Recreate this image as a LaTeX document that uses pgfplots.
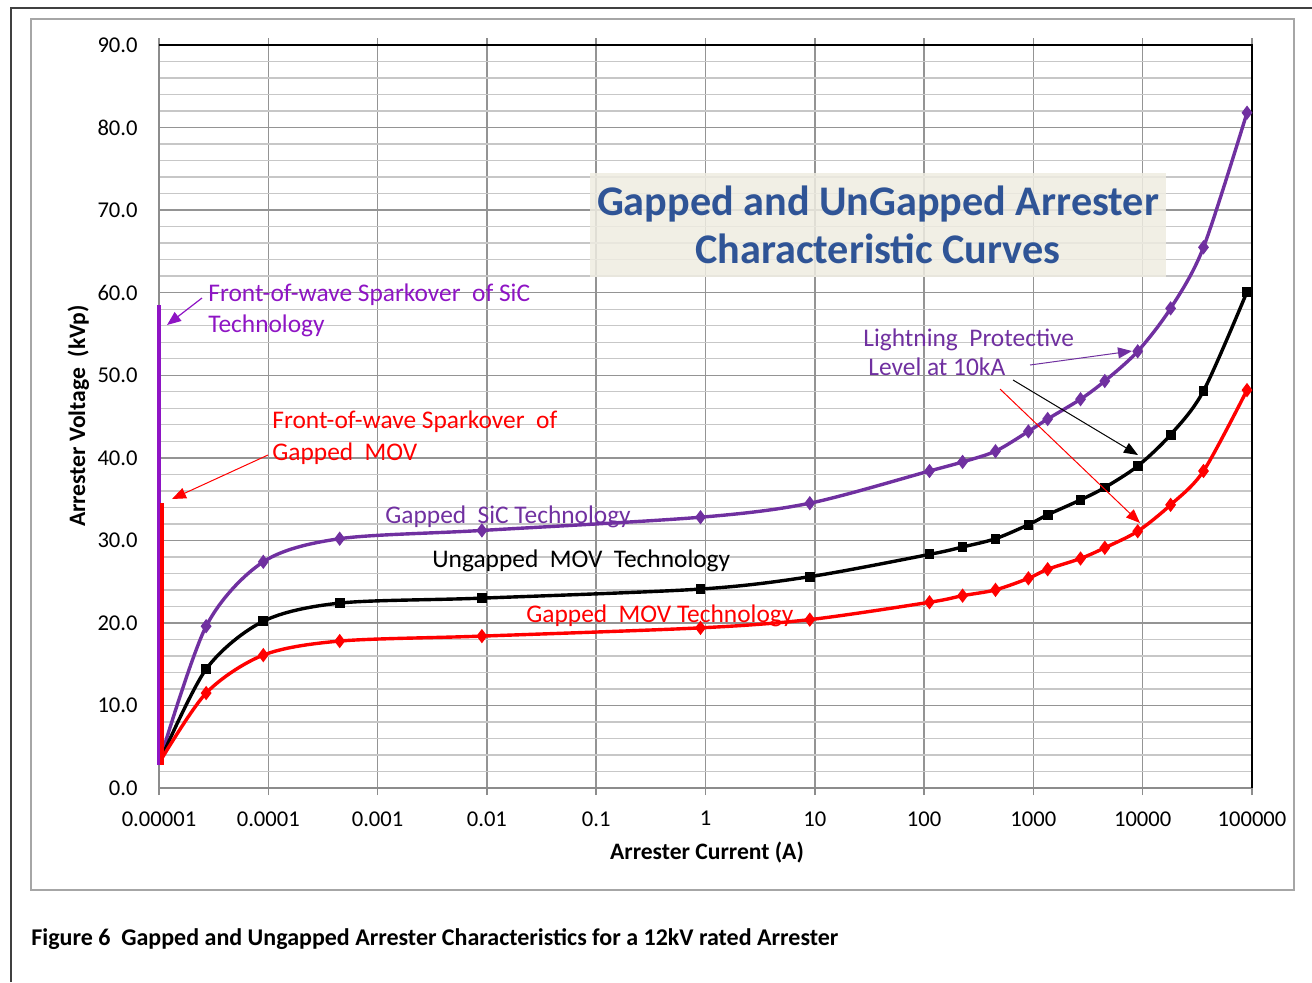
\documentclass[border=0pt]{standalone}
\usepackage{pgfplots}
\pgfplotsset{compat=1.18}
\usepackage{pgfplotstable}
\usepackage{fontspec}
\setmainfont{Carlito}
\usetikzlibrary{arrows.meta}
\definecolor{sicpurple}{RGB}{112,48,160}
\definecolor{sparkviolet}{RGB}{142,20,196}
\definecolor{movred}{RGB}{255,0,0}
\definecolor{titleblue}{RGB}{47,84,150}
\definecolor{boxfill}{RGB}{238,236,225}

\pgfplotstableread{
I V
1e-5 3.0
2.7e-5 19.6
9e-5 27.4
4.5e-4 30.2
0.009 31.2
0.9 32.8
9 34.5
112 38.4
225 39.5
450 40.8
900 43.2
1350 44.7
2700 47.1
4500 49.3
9000 52.9
18000 58.1
36000 65.5
90000 81.8
}\sic

\pgfplotstableread{
I V
1e-5 3.0
2.7e-5 14.4
9e-5 20.2
4.5e-4 22.4
0.009 23.0
0.9 24.1
9 25.6
112 28.3
225 29.2
450 30.2
900 31.9
1350 33.1
2700 34.9
4500 36.4
9000 39.0
18000 42.8
36000 48.1
90000 60.1
}\ungapped

\pgfplotstableread{
I V
1e-5 3.0
2.7e-5 11.5
9e-5 16.1
4.5e-4 17.8
0.009 18.4
0.9 19.4
9 20.4
112 22.5
225 23.3
450 24.0
900 25.4
1350 26.5
2700 27.8
4500 29.1
9000 31.1
18000 34.3
36000 38.4
90000 48.2
}\gappedmov

\begin{document}
\begin{tikzpicture}
\begin{scope}[x=0.5pt,y=-0.5pt]
\path[use as bounding box] (0,0) rectangle (1312,982);
\draw[color=black!75, line width=0.75pt] (11,982) -- (11,8) -- (1312,8);
\draw[color=black!35, line width=0.6pt] (31,19) rectangle (1294,890);
\end{scope}

\begin{axis}[
  at={(79.5pt,-394pt)}, anchor=south west,
  width=546.5pt, height=371.5pt, scale only axis,
  xmode=log, xmin=1e-5, xmax=1e5, ymin=0, ymax=90,
  clip=false,
  xtick={1e-5,1e-4,1e-3,1e-2,1e-1,1,10,100,1000,10000,100000},
  xticklabels={0.00001,0.0001,0.001,0.01,0.1,1,10,100,1000,10000,100000},
  xminorticks=false,
  ytick={0,10,...,90},
  minor y tick num=4,
  xmajorgrids, ymajorgrids, yminorgrids,
  major grid style={color=black!42, line width=0.7pt},
  minor grid style={color=black!22, line width=0.7pt},
  axis line style={color=black!45, line width=0.75pt},
  tick align=outside, major tick length=3.5pt, minor tick length=0pt,
  xtick style={color=black!45, line width=0.7pt},
  ytick style={draw=none},
  /pgf/number format/assume math mode=true,
  yticklabel style={font=\fontsize{11.3}{13}\selectfont, anchor=east, inner sep=0pt, xshift=-7pt,
    /pgf/number format/.cd, fixed, fixed zerofill, precision=1},
  xticklabel style={font=\fontsize{11.3}{13}\selectfont, anchor=north, inner sep=0pt, yshift=-8pt},
]
\addplot[sicpurple, line width=1.7pt, smooth, mark=diamond*, mark size=2.2pt, mark indices={2,...,18}] table[x=I,y=V] {\sic};
\addplot[black, line width=1.7pt, smooth, mark=square*, mark size=1.6pt, mark indices={2,...,18}] table[x=I,y=V] {\ungapped};
\addplot[movred, line width=1.7pt, smooth, mark=diamond*, mark size=2.2pt, mark indices={2,...,18}] table[x=I,y=V] {\gappedmov};
\addplot[sparkviolet, line width=2pt, no marks] coordinates {(1e-5,2.8) (1e-5,58.5)};
\addplot[movred, line width=2pt, no marks, xshift=1.5pt] coordinates {(1e-5,2.8) (1e-5,34.5)};
\draw[black, line width=0.75pt] (rel axis cs:0,1) -- (rel axis cs:1,1) -- (rel axis cs:1,0);
\end{axis}

\begin{scope}[x=0.5pt,y=-0.5pt]
% title box
\fill[boxfill, fill opacity=0.85] (590,173) rectangle (1166,277);
\node[anchor=base, text=titleblue, font=\fontsize{21.1}{24}\selectfont\bfseries, inner sep=0pt] at (878,215) {Gapped and UnGapped Arrester};
\node[anchor=base, text=titleblue, font=\fontsize{21.1}{24}\selectfont\bfseries, inner sep=0pt] at (878,263) {Characteristic Curves};
% axis labels
\node[rotate=90, anchor=base, font=\fontsize{11.8}{14}\selectfont\bfseries, inner sep=0pt] at (85,416) {Arrester Voltage\ \ (kVp)};
\node[anchor=base, font=\fontsize{11.8}{14}\selectfont\bfseries, inner sep=0pt] at (707,859) {Arrester Current (A)};
% caption
\node[anchor=base west, font=\fontsize{12}{14}\selectfont\bfseries, inner sep=0pt] at (31,945) {Figure 6\ \ Gapped and Ungapped Arrester Characteristics for a 12kV rated Arrester};
% annotations
\begin{scope}[font=\fontsize{12.7}{14}\selectfont]
\node[anchor=base west, text=sparkviolet, inner sep=0pt] at (208,301) {Front-of-wave Sparkover\ \ of SiC};
\node[anchor=base west, text=sparkviolet, inner sep=0pt] at (208,332) {Technology};
\node[anchor=base west, text=movred, inner sep=0pt] at (272,428) {Front-of-wave Sparkover\ \ of};
\node[anchor=base west, text=movred, inner sep=0pt] at (272,460) {Gapped\ \ MOV};
\node[anchor=base west, text=sicpurple, inner sep=0pt] at (385,523) {Gapped\ \ SiC Technology};
\node[anchor=base west, text=black, inner sep=0pt] at (432,567) {Ungapped\ \ MOV\ \ Technology};
\node[anchor=base west, text=movred, inner sep=0pt] at (526,622) {Gapped\ \ MOV Technology};
\node[anchor=base west, text=sicpurple, inner sep=0pt] at (863,346) {Lightning\ \ Protective};
\node[anchor=base west, text=sicpurple, inner sep=0pt] at (868,375) {Level at 10kA};
\end{scope}
% arrows
\draw[sparkviolet, line width=0.6pt, -{Triangle[length=7pt,width=5.5pt]}] (202,298) -- (167,325);
\draw[movred, line width=0.5pt, -{Triangle[length=7pt,width=5.5pt]}] (268,455) -- (172,499);
\draw[sicpurple, line width=0.5pt, -{Triangle[length=7pt,width=5.5pt]}] (1030,365) -- (1132,351);
\draw[black, line width=0.5pt, -{Triangle[length=7pt,width=5.5pt]}] (1013,380) -- (1138,455);
\draw[movred, line width=0.5pt, -{Triangle[length=7pt,width=5.5pt]}] (1000,389) -- (1140,523);
\end{scope}
\end{tikzpicture}
\end{document}
